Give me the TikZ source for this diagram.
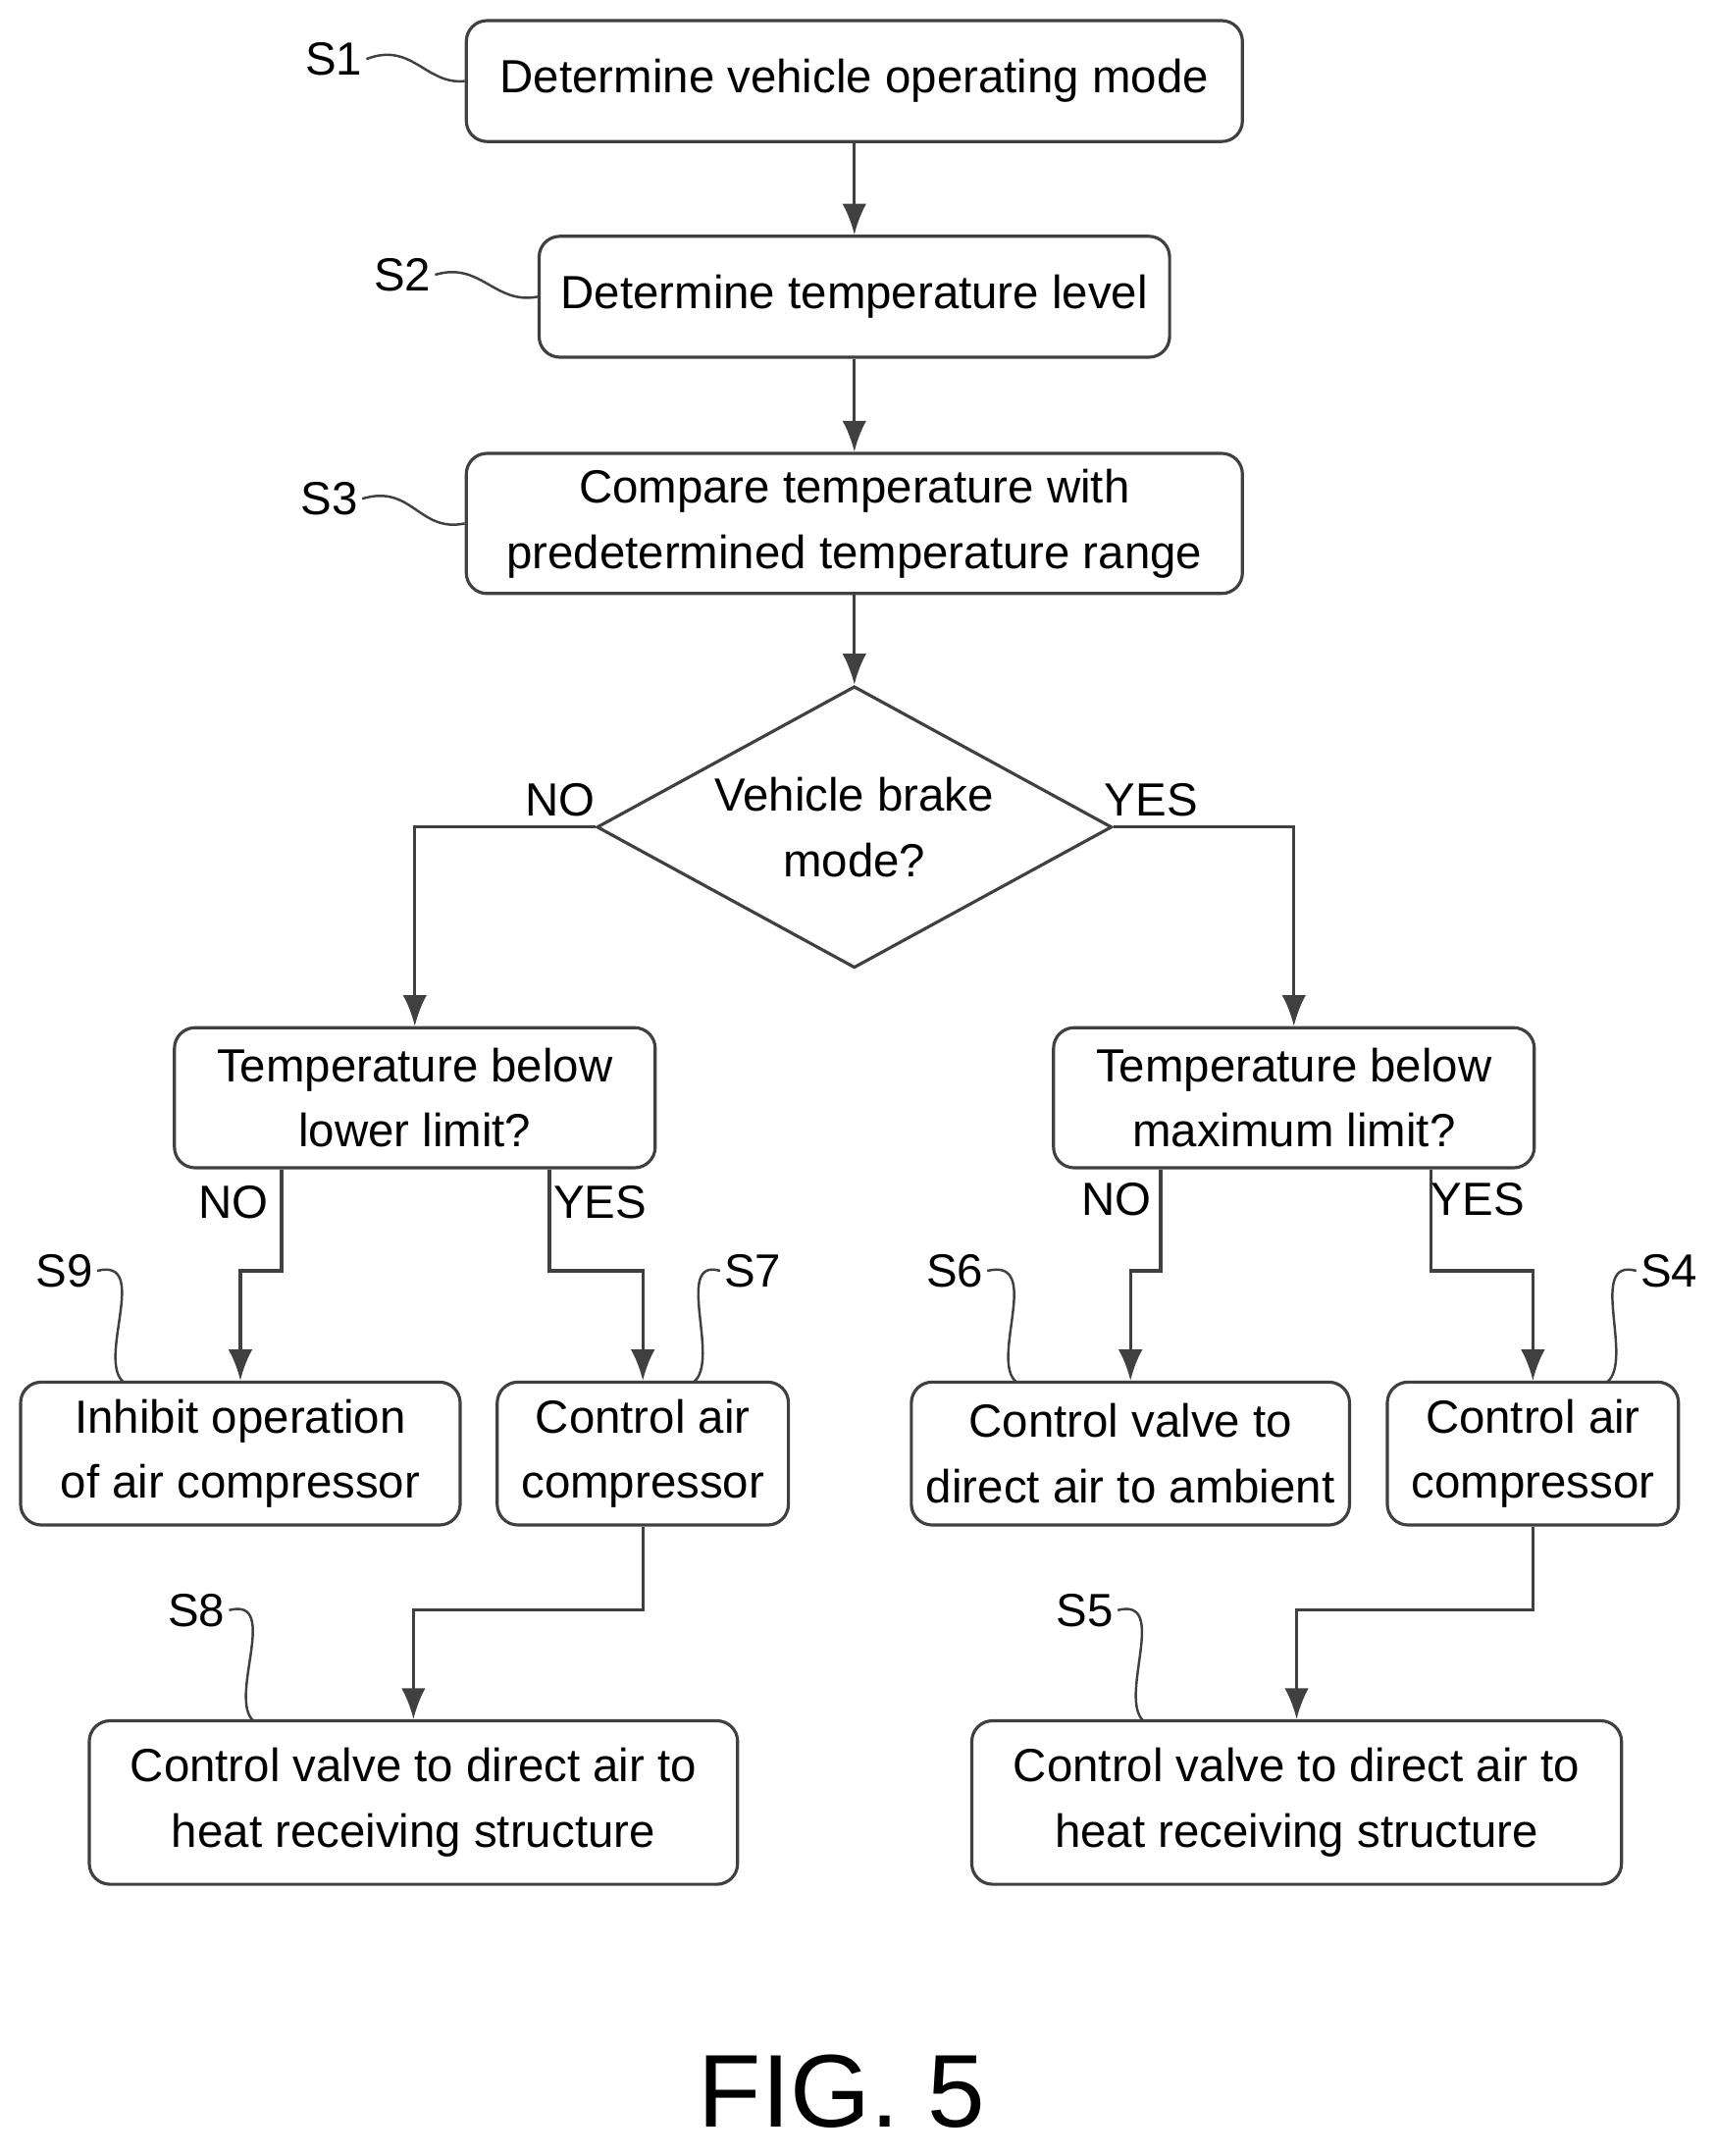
\documentclass[tikz,border=0pt]{standalone}
\usepackage{fontspec}
\setmainfont{Liberation Sans}
\usetikzlibrary{positioning}
\usetikzlibrary{shapes.geometric}
\usetikzlibrary{arrows.meta}
\begin{document}
\begin{tikzpicture}[
  x=0.014cm, y=-0.014cm,
  font=\fontsize{13.5}{19}\selectfont,
  stepbox/.style={draw=black!75, line width=0.9pt, rounded corners=6pt, align=center, inner sep=0pt},
  decision/.style={draw=black!75, line width=0.9pt, diamond, aspect=1.83, align=center, inner sep=0pt},
  flow/.style={draw=black!75, line width=0.9pt, -{Latex[length=9pt,width=7pt]}},
  lead/.style={draw=black!75, line width=0.7pt},
  tag/.style={inner sep=1pt}
]
\useasboundingbox (0,0) rectangle (1249.3,1569.3);

% Main column
\node[stepbox, minimum width=565*0.014cm, minimum height=88*0.014cm] (s1) at (622,59) {Determine vehicle operating mode};
\node[stepbox, minimum width=459*0.014cm, minimum height=88*0.014cm] (s2) at (622,216) {Determine temperature level};
\node[stepbox, minimum width=565*0.014cm, minimum height=102*0.014cm] (s3) at (622,381) {Compare temperature with\\predetermined temperature range};
\node[decision, minimum width=375*0.014cm, minimum height=205*0.014cm] (brake) at (622,602) {Vehicle brake\\mode?};

% Second level
\node[stepbox, minimum width=350*0.014cm, minimum height=102*0.014cm] (lowq) at (302,799) {Temperature below\\lower limit?};
\node[stepbox, minimum width=350*0.014cm, minimum height=102*0.014cm] (maxq) at (942,799) {Temperature below\\maximum limit?};

% Actions
\node[stepbox, minimum width=320*0.014cm, minimum height=104*0.014cm] (s9) at (175,1058) {Inhibit operation\\of air compressor};
\node[stepbox, minimum width=212*0.014cm, minimum height=104*0.014cm] (s7) at (468,1058) {Control air\\compressor};
\node[stepbox, minimum width=319*0.014cm, minimum height=104*0.014cm] (s6) at (823,1058) {Control valve to\\direct air to ambient};
\node[stepbox, minimum width=212*0.014cm, minimum height=104*0.014cm] (s4) at (1116,1058) {Control air\\compressor};
\node[stepbox, minimum width=472*0.014cm, minimum height=119*0.014cm] (s8) at (301,1312) {Control valve to direct air to\\heat receiving structure};
\node[stepbox, minimum width=473*0.014cm, minimum height=119*0.014cm] (s5) at (944,1312) {Control valve to direct air to\\heat receiving structure};

% Connectors
\draw[flow] (s1) -- (s2);
\draw[flow] (s2) -- (s3);
\draw[flow] (s3) -- (brake);
\draw[flow] (brake.west) -| (lowq.north);
\draw[flow] (brake.east) -| (maxq.north);
\draw[flow] (lowq.south -| 205,0) |- (175,925) -- (s9.north);
\draw[flow] (lowq.south -| 400,0) |- (468,925) -- (s7.north);
\draw[flow] (maxq.south -| 845,0) |- (823,925) -- (s6.north);
\draw[flow] (maxq.south -| 1042,0) |- (1116,925) -- (s4.north);
\draw[flow] (s7.south) |- (301,1172) -- (s8.north);
\draw[flow] (s4.south) |- (944,1172) -- (s5.north);

% Branch labels
\node[tag] (no1) at (408,582) {NO};
\node[tag] (yes1) at (838,582) {YES};
\node[tag] (no2) at (170,875) {NO};
\node[tag] (yes2) at (437,875) {YES};
\node[tag] (no3) at (813,873) {NO};
\node[tag] (yes3) at (1076,873) {YES};

% Step tags with leaders
\node[tag] (t1) at (243,43) {S1};
\draw[lead] (t1.east) .. controls (300,30) and (310,62) .. (s1.west);
\node[tag] (t2) at (293,200) {S2};
\draw[lead] (t2.east) .. controls (350,190) and (360,222) .. (s2.west);
\node[tag] (t3) at (240,363) {S3};
\draw[lead] (t3.east) .. controls (300,352) and (305,388) .. (s3.west);
\node[tag] (t9) at (47,925) {S9};
\draw[lead] (t9.east) .. controls (110,915) and (70,990) .. (90,1006);
\node[tag] (t7) at (548,925) {S7};
\draw[lead] (t7.west) .. controls (490,915) and (525,990) .. (505,1006);
\node[tag] (t6) at (695,925) {S6};
\draw[lead] (t6.east) .. controls (760,915) and (720,990) .. (740,1006);
\node[tag] (t4) at (1215,925) {S4};
\draw[lead] (t4.west) .. controls (1155,915) and (1190,990) .. (1170,1006);
\node[tag] (t8) at (143,1172) {S8};
\draw[lead] (t8.east) .. controls (205,1162) and (165,1237) .. (185,1253);
\node[tag] (t5) at (790,1172) {S5};
\draw[lead] (t5.east) .. controls (852,1162) and (813,1237) .. (833,1253);

% Figure caption
\node[font=\fontsize{30}{34}\selectfont] (fig) at (613,1522) {FIG. 5};
\end{tikzpicture}
\end{document}
